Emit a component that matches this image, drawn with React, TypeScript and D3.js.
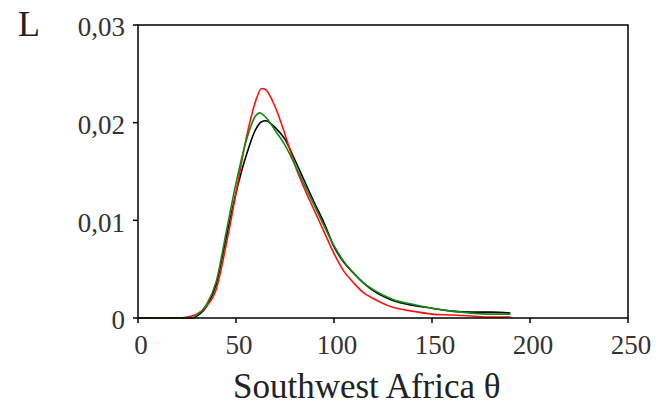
import React from "react";
import * as d3 from "d3";

// theta values (x) and density L for each series
const blackX = [0, 28, 30, 35, 40, 45, 50, 55, 60, 63, 65, 70, 75, 80, 85, 90, 95, 100, 105, 110, 115, 120, 130, 140, 150, 160, 170, 180, 190];
const blackY = [0, 0, 0.0002, 0.0012, 0.0035, 0.0082, 0.0128, 0.0165, 0.0193, 0.0201, 0.0202, 0.0195, 0.0183, 0.0162, 0.014, 0.0118, 0.0097, 0.0073, 0.0057, 0.0046, 0.0036, 0.0028, 0.0018, 0.0013, 0.001, 0.0007, 0.0006, 0.0006, 0.0005];

const redX = [0, 22, 25, 30, 35, 40, 45, 50, 55, 60, 63, 65, 70, 75, 80, 85, 90, 95, 100, 105, 110, 115, 120, 130, 140, 150, 160, 170, 180, 190];
const redY = [0, 0, 0.0001, 0.0004, 0.0012, 0.003, 0.0075, 0.0128, 0.0182, 0.0222, 0.0235, 0.0234, 0.0216, 0.0188, 0.0157, 0.0132, 0.011, 0.0088, 0.0066, 0.0048, 0.0036, 0.0026, 0.002, 0.0011, 0.0007, 0.0004, 0.0003, 0.0002, 0.0001, 0.0001];

const greenX = [0, 27, 30, 35, 40, 45, 50, 55, 60, 62, 65, 70, 75, 80, 85, 90, 95, 100, 105, 110, 115, 120, 130, 140, 150, 160, 170, 180, 190];
const greenY = [0, 0, 0.0003, 0.0014, 0.0038, 0.0088, 0.0138, 0.018, 0.0207, 0.021, 0.0206, 0.0192, 0.0177, 0.0157, 0.0136, 0.0115, 0.0094, 0.0074, 0.0058, 0.0046, 0.0036, 0.0029, 0.0019, 0.0014, 0.001, 0.0007, 0.0005, 0.0004, 0.0004];

const xTicks = [0, 50, 100, 150, 200, 250];
const yTicks = [0, 0.01, 0.02, 0.03];
const yTickLabels = ["0", "0,01", "0,02", "0,03"];

const width = 663;
const height = 413;
const margin = { top: 25, right: 35, bottom: 95, left: 138 };
const font = "'Liberation Serif', 'Times New Roman', serif";

const App = () => {
  const x = d3.scaleLinear().domain([0, 250]).range([margin.left, width - margin.right]);
  const y = d3.scaleLinear().domain([0, 0.03]).range([height - margin.bottom, margin.top]);

  const line = d3
    .line<[number, number]>()
    .x((d) => x(d[0]))
    .y((d) => y(d[1]))
    .curve(d3.curveMonotoneX);

  const series = [
    { xs: blackX, ys: blackY, color: "#000000" },
    { xs: redX, ys: redY, color: "#ff1010" },
    { xs: greenX, ys: greenY, color: "#138a13" },
  ];

  const x0 = x(0);
  const x1 = x(250);
  const y0 = y(0);
  const y1 = y(0.03);

  return (
    <svg
      width={width}
      height={height}
      style={{ position: "absolute", left: 0, top: 0, background: "#fff" }}
    >
      {series.map((s, i) => (
        <path
          key={i}
          d={line(s.xs.map((v, j) => [v, s.ys[j]] as [number, number])) || ""}
          fill="none"
          stroke={s.color}
          strokeWidth={1.6}
        />
      ))}

      {/* frame */}
      <rect x={x0} y={y1} width={x1 - x0} height={y0 - y1} fill="none" stroke="#000" strokeWidth={1.5} />

      {/* x ticks */}
      {xTicks.map((t) => (
        <g key={t}>
          <line x1={x(t)} x2={x(t)} y1={y0} y2={y0 + 5} stroke="#000" strokeWidth={1.5} />
          <text x={x(t) + 3} y={y0 + 36} textAnchor="middle" fontFamily={font} fontSize={27} fill="#333">
            {t}
          </text>
        </g>
      ))}

      {/* y ticks */}
      {yTicks.map((t, i) => (
        <g key={t}>
          <line x1={x0 - 5} x2={x0} y1={y(t)} y2={y(t)} stroke="#000" strokeWidth={1.5} />
          <text x={x0 - 13} y={y(t) + 2} dy="0.35em" textAnchor="end" fontFamily={font} fontSize={27} fill="#333">
            {yTickLabels[i]}
          </text>
        </g>
      ))}

      <text x={18} y={36} fontFamily={font} fontSize={36} fill="#222">
        L
      </text>
      <text x={233} y={398} fontFamily={font} fontSize={35} fill="#222">
        Southwest Africa θ
      </text>
    </svg>
  );
};

export default App;
